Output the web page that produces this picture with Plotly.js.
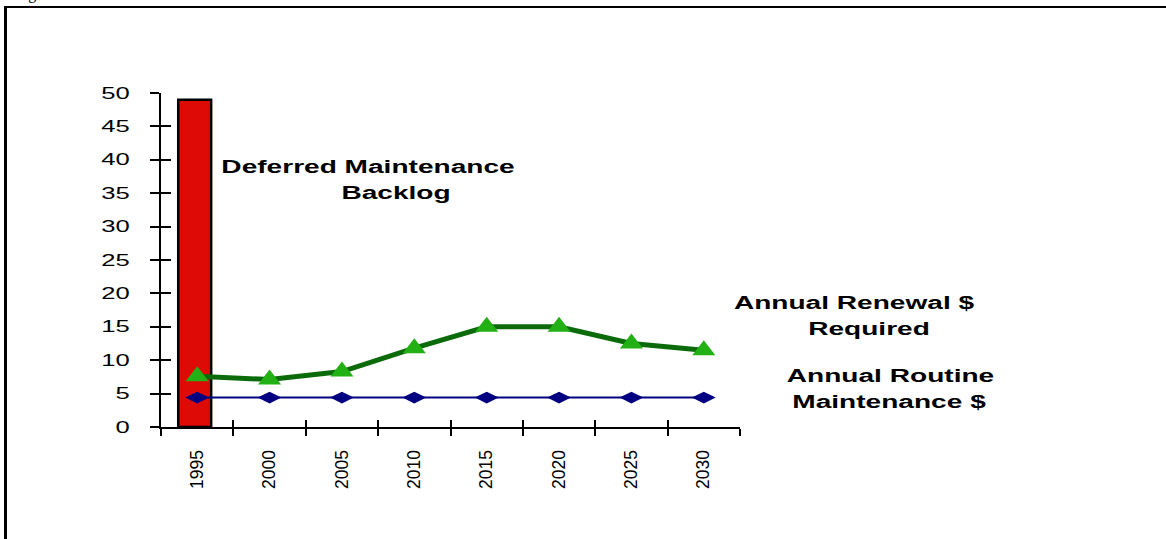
<!DOCTYPE html>
<html><head><meta charset="utf-8">
<script src="https://cdn.plot.ly/plotly-3.0.1.min.js"></script>
<style>
html,body{margin:0;padding:0;background:#fff;}
#wrap{position:relative;width:1166px;height:539px;overflow:hidden;}
#frame{position:absolute;left:4px;top:6px;width:1200px;height:600px;border-left:3px solid #000;border-top:2px solid #000;pointer-events:none;z-index:5;}
#fig{position:absolute;left:15px;top:-15px;font:16px 'Liberation Serif',serif;color:#000;z-index:4;}
#chart{position:absolute;left:0;top:0;width:1166px;height:539px;}
</style></head>
<body><div id="wrap"><div id="fig">Figure</div><div id="chart"></div><div id="frame"></div></div>
<script>
const years = ['1995','2000','2005','2010','2015','2020','2025','2030'];
const backlogYears = ['1995'];
const backlogValues = [49];
const renewalValues = [7.6, 7.1, 8.3, 11.8, 15.0, 15.0, 12.5, 11.5];
const routineValues = [4.4, 4.4, 4.4, 4.4, 4.4, 4.4, 4.4, 4.4];
const yTicks = [0,5,10,15,20,25,30,35,40,45,50];

const traces = [
  {type:'bar', x:backlogYears, y:backlogValues, width:0.455, offset:-0.262,
   marker:{color:'#DE0A06', line:{color:'#000', width:2.5}}, hoverinfo:'skip'},
  {type:'scatter', mode:'lines+markers', x:years, y:renewalValues,
   line:{color:'#0B6B0B', width:5}, marker:{symbol:'triangle-up', size:20, color:'#22B014'}},
  {type:'scatter', mode:'lines+markers', x:years, y:routineValues,
   line:{color:'#000080', width:2}, marker:{symbol:'diamond-wide', size:17, color:'#000080'}},
  {type:'scatter', x:years, y:routineValues, xaxis:'x2', yaxis:'y2', mode:'none', hoverinfo:'skip'}
];

const annFont = {family:'Liberation Sans, Arial', size:18, color:'#000'};
const layout = {
  width:1166, height:539,
  margin:{l:161, r:426, t:93, b:112},
  paper_bgcolor:'#fff', plot_bgcolor:'rgba(0,0,0,0)',
  showlegend:false,
  bargap:0,
  xaxis:{type:'category', categoryorder:'array', categoryarray:years, range:[-0.5,7.5],
    tickson:'boundaries', ticks:'outside', ticklen:7, tickwidth:2, tickcolor:'#000',
    showline:true, linecolor:'#000', linewidth:2, showgrid:false, zeroline:false,
    tickangle:-90, tickfont:{family:'Liberation Sans, Arial', size:17.5, color:'#000'}, ticklabelstandoff:14},
  yaxis:{range:[0,50], tickvals:yTicks, ticks:'outside', ticklen:9, tickwidth:2, tickcolor:'#000',
    showline:true, linecolor:'#000', linewidth:2, showgrid:false, zeroline:false,
    tickfont:{family:'Liberation Sans, Arial', size:16, color:'#000'}, ticklabelstandoff:17},
  xaxis2:{overlaying:'x', type:'category', categoryarray:years, range:[-0.5,7.5], tickson:'boundaries',
    ticks:'inside', ticklen:7, tickwidth:2, tickcolor:'#000', showticklabels:false, showline:false, showgrid:false, zeroline:false},
  yaxis2:{overlaying:'y', range:[0,50], tickvals:yTicks, ticks:'inside', ticklen:10, tickwidth:2, tickcolor:'#000',
    showticklabels:false, showline:false, showgrid:false, zeroline:false},
  annotations:[
    {text:'<b>Deferred Maintenance</b>', xref:'paper', yref:'paper', x:0.3575, y:0.778, xanchor:'center', yanchor:'middle', showarrow:false, font:annFont},
    {text:'<b>Backlog</b>', xref:'paper', yref:'paper', x:0.4067, y:0.7006, xanchor:'center', yanchor:'middle', showarrow:false, font:annFont},
    {text:'<b>Annual Renewal $</b>', xref:'paper', yref:'paper', x:1.1969, y:0.371, xanchor:'center', yanchor:'middle', showarrow:false, font:annFont},
    {text:'<b>Required</b>', xref:'paper', yref:'paper', x:1.2228, y:0.293, xanchor:'center', yanchor:'middle', showarrow:false, font:annFont},
    {text:'<b>Annual Routine</b>', xref:'paper', yref:'paper', x:1.260, y:0.153, xanchor:'center', yanchor:'middle', showarrow:false, font:annFont},
    {text:'<b>Maintenance $</b>', xref:'paper', yref:'paper', x:1.2565, y:0.075, xanchor:'center', yanchor:'middle', showarrow:false, font:annFont}
  ]
};
Plotly.newPlot('chart', traces, layout, {displayModeBar:false, staticPlot:true}).then(gd => {
  // the reference's lettering is stretched horizontally
  const stretch = (sel, s, anchor) => {
    gd.querySelectorAll(sel).forEach(t => {
      const b = t.getBBox();
      const cx = anchor === 'end' ? b.x + b.width : b.x + b.width / 2;
      const tr = t.getAttribute('transform') || '';
      t.setAttribute('transform', tr + ' translate(' + cx + ',0) scale(' + s + ',1) translate(' + (-cx) + ',0)');
    });
  };
  stretch('.ytick text', 1.6, 'end');
  stretch('.annotation-text', 1.56, 'middle');
});
</script></body></html>
